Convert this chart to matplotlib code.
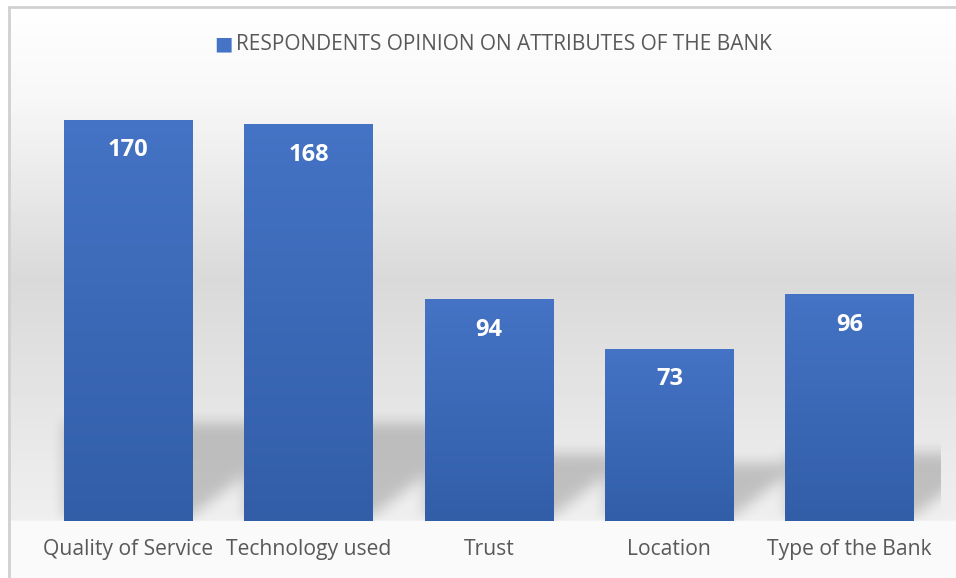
import matplotlib.pyplot as plt
import numpy as np
from matplotlib.colors import LinearSegmentedColormap

categories = ["Quality of Service", "Technology used", "Trust", "Location", "Type of the Bank"]
responses = [170, 168, 94, 73, 96]
series_name = "RESPONDENTS OPINION ON ATTRIBUTES OF THE BANK"

W, H, DPI = 956, 578, 100
TEXT = "#595959"
BAR_TOP, BAR_BOTTOM = "#4573c5", "#325ea8"
BAR_WIDTH = 0.715
Y_MAX = 180


def box_blur(img, radius, passes=3):
    out = img
    k = np.ones(2 * radius + 1) / (2 * radius + 1)
    for _ in range(passes):
        out = np.apply_along_axis(lambda r: np.convolve(r, k, mode="same"), 0, out)
        out = np.apply_along_axis(lambda r: np.convolve(r, k, mode="same"), 1, out)
    return out


fig = plt.figure(figsize=(W / DPI, H / DPI), dpi=DPI)
fig.patch.set_facecolor("white")

# chart area background: soft vertical gradient, lighter "floor" under the baseline
bg = fig.add_axes([0, 0, 1, 1], zorder=0)
bg.set_axis_off()
ys = np.linspace(7, H, 1200)
stops_y = [0, 100, 280, 460, 520, 522, H]
stops_v = [1.0, 0.968, 0.851, 0.918, 0.935, 0.980, 0.980]
shade = np.interp(ys, stops_y, stops_v)
bg.imshow(np.repeat(shade[:, None], 2, axis=1), cmap="gray", vmin=0, vmax=1,
          extent=[8, W + 20, H, 7], aspect="auto", interpolation="nearest")
bg.set_xlim(0, W)
bg.set_ylim(H, 0)
bg.plot([8, W + 5], [7, 7], color="#d0d0d0", lw=2, solid_capstyle="butt")
bg.plot([9, 9], [6, H + 5], color="#d0d0d0", lw=2, solid_capstyle="butt")

# plot area in pixels: x from 38 to 940, baseline at 521, top at 96
ax = fig.add_axes([38 / W, 57 / H, 902 / W, 425 / H], zorder=1)
ax.set_facecolor("none")
x = np.arange(len(categories))

# drop shadows cast to the right of each bar
px_x = 902 / len(categories)
px_y = 425 / Y_MAX
sh_h_units = 60
gx = np.arange(920)
gy = np.arange(int(sh_h_units * px_y))
GX, GY = np.meshgrid(gx, gy)
mask = np.zeros_like(GX, dtype=float)
for xi, v in zip(x, responses):
    left = (xi + 0.5 - BAR_WIDTH / 2) * px_x
    right = (xi + 0.5 + BAR_WIDTH / 2) * px_x
    top = (0.175 * v + 11.7) * px_y
    inside = (GX >= left) & (GX <= right - 8 + 1.3 * GY) & (GY <= top) & (GY >= 3)
    mask = np.maximum(mask, inside.astype(float))
mask = box_blur(mask, 6)
rgba = np.zeros(mask.shape + (4,))
rgba[..., 3] = np.clip(mask, 0, 1) * 0.19
ax.imshow(rgba[::-1], extent=[-0.5, -0.5 + 920 / px_x, 0, gy.size / px_y],
          aspect="auto", interpolation="bilinear", zorder=1)

# bars with a top-to-bottom blue gradient
bar_cmap = LinearSegmentedColormap.from_list("bar", [BAR_BOTTOM, BAR_TOP])
bars = ax.bar(x, responses, width=BAR_WIDTH, color=BAR_TOP, linewidth=0, zorder=2)
for rect, v in zip(bars, responses):
    x0 = rect.get_x()
    grad = np.linspace(0, 1, 256)[:, None]
    im = ax.imshow(grad, cmap=bar_cmap, origin="lower", aspect="auto",
                   extent=[x0, x0 + rect.get_width(), 0, v], zorder=3,
                   interpolation="bilinear")
    im.set_clip_path(rect)
    ax.text(rect.get_x() + rect.get_width() / 2, v - 13, str(v),
            ha="center", va="center", color="white", fontsize=17,
            fontweight="bold", family="Open Sans", zorder=4)

ax.set_xlim(-0.5, len(categories) - 0.5)
ax.set_ylim(0, Y_MAX)
ax.set_xticks(x)
ax.set_xticklabels(categories, fontsize=15.2, color=TEXT, family="Open Sans")
ax.tick_params(axis="x", length=0, pad=13)
ax.set_yticks([])
for s in ax.spines.values():
    s.set_visible(False)

# single-series legend used as the chart title
fig.text(223 / W, 1 - 44 / H, "\u25A0", color=BAR_TOP, fontsize=14,
         ha="center", va="center", family="DejaVu Sans")
fig.text(236 / W, 1 - 45 / H, series_name, color=TEXT, fontsize=15,
         ha="left", va="center", family="Open Sans")

fig.savefig("out.png", dpi=DPI)
